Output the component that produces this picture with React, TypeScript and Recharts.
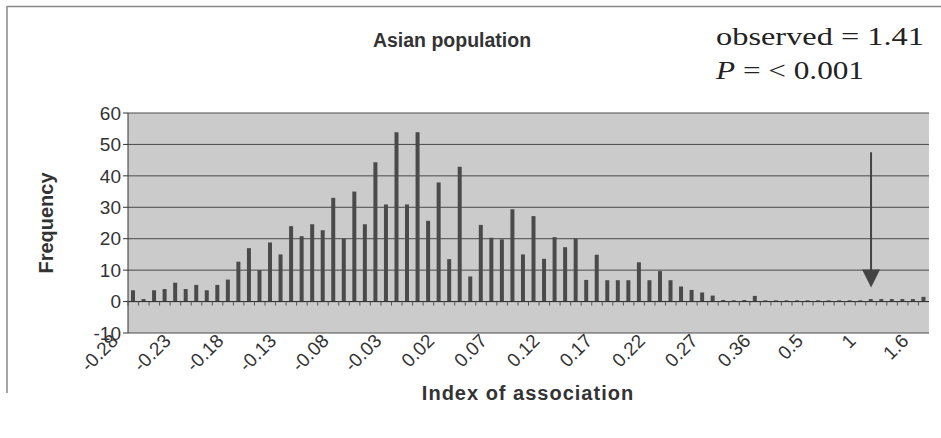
import { BarChart, Bar, XAxis, YAxis, CartesianGrid, ReferenceLine, ReferenceArea } from 'recharts'

// bins of the index of association
const indexBins = [
  '-0.28', '-0.27', '-0.26', '-0.25', '-0.24', '-0.23', '-0.22', '-0.21', '-0.2', '-0.19',
  '-0.18', '-0.17', '-0.16', '-0.15', '-0.14', '-0.13', '-0.12', '-0.11', '-0.1', '-0.09',
  '-0.08', '-0.07', '-0.06', '-0.05', '-0.04', '-0.03', '-0.02', '-0.01', '0', '0.01',
  '0.02', '0.03', '0.04', '0.05', '0.06', '0.07', '0.08', '0.09', '0.1', '0.11',
  '0.12', '0.13', '0.14', '0.15', '0.16', '0.17', '0.18', '0.19', '0.2', '0.21',
  '0.22', '0.23', '0.24', '0.25', '0.26', '0.27', '0.28', '0.29', '0.3', '0.33',
  '0.36', '0.39', '0.42', '0.44', '0.47', '0.5', '0.6', '0.7', '0.8', '0.9',
  '1', '1.1', '1.2', '1.3', '1.4', '1.6',
]

const frequencies = [
  3.6, 0.8, 3.6, 4, 6, 4, 5.3, 3.6, 5.3, 7,
  12.7, 17, 10, 18.8, 15, 24, 20.8, 24.6, 22.7, 33,
  20, 35, 24.6, 44.3, 30.9, 53.9, 30.9, 53.9, 25.7, 37.9,
  13.5, 42.9, 8, 24.4, 20.3, 19.8, 29.4, 15, 27.2, 13.6,
  20.5, 17.3, 20, 6.9, 14.9, 6.8, 6.8, 6.8, 12.5, 6.8,
  9.7, 6.8, 4.8, 3.7, 2.9, 1.9, 0.5, 0.4, 0.5, 1.8,
  0.4, 0.4, 0.4, 0.4, 0.4, 0.4, 0.4, 0.4, 0.4, 0.4,
  0.8, 0.8, 0.8, 0.8, 0.8, 1.5,
]

const yTicks = [-10, 0, 10, 20, 30, 40, 50, 60]

// where the observed-value arrow sits
const arrowBin = '1'
const arrowFrom = 47.5
const arrowTo = 4.5

const data = indexBins.map((bin, i) => ({ bin, frequency: frequencies[i] }))

const W = 941
const H = 438
const PLOT_TOP = 113
const PLOT_BOTTOM = 333
const PLOT_LEFT = 128
const PLOT_RIGHT = 929
const BAND = (PLOT_RIGHT - PLOT_LEFT) / indexBins.length
const ZERO_Y = PLOT_TOP + ((PLOT_BOTTOM - PLOT_TOP) * 60) / 70

const SANS = 'Arial, "Liberation Sans", sans-serif'
const SERIF = '"Times New Roman", "Liberation Serif", serif'
const INK = '#333'

function BinTick({ x, payload, index }: any) {
  const ex = x - 14
  const ey = PLOT_BOTTOM + 9
  return (
    <g>
      <line x1={x - BAND / 2} x2={x - BAND / 2} y1={ZERO_Y} y2={ZERO_Y + 4} stroke="#555" />
      {index % 5 === 0 && (
        <text
          x={ex}
          y={ey}
          textAnchor="end"
          fontSize={19}
          fontFamily={SANS}
          fill={INK}
          transform={`rotate(-45 ${ex} ${ey})`}
        >
          {payload.value}
        </text>
      )}
    </g>
  )
}

function Arrow({ x1, y1, x2, y2 }: any) {
  return (
    <g>
      <line x1={x1} y1={y1} x2={x2} y2={y2 - 16} stroke="#444" strokeWidth={2} />
      <polygon points={`${x2 - 9},${y2 - 18} ${x2 + 9},${y2 - 18} ${x2},${y2}`} fill="#444" />
    </g>
  )
}

export default function App() {
  return (
    <div style={{ position: 'absolute', left: 0, top: 0, width: W, height: H, background: '#fff' }}>
      <BarChart
        width={W}
        height={H}
        data={data}
        margin={{ top: PLOT_TOP, right: W - PLOT_RIGHT, bottom: H - PLOT_BOTTOM - 60, left: PLOT_LEFT - 60 }}
      >
        <CartesianGrid vertical={false} fill="#cbcbcb" stroke="#4a4a4a" />
        <XAxis
          dataKey="bin"
          interval={0}
          height={60}
          axisLine={false}
          tickLine={false}
          tickSize={0}
          tick={<BinTick />}
        />
        <YAxis
          width={60}
          domain={[-10, 60]}
          ticks={yTicks}
          interval={0}
          stroke="#333"
          tickSize={5}
          tick={{ fontSize: 19, fontFamily: SANS, fill: INK }}
        />
        <ReferenceArea fill="none" stroke="#444" ifOverflow="visible" />
        <ReferenceLine y={0} stroke="#333" />
        <Bar dataKey="frequency" fill="#4a4a4a" barSize={4} isAnimationActive={false} />
        <ReferenceLine
          segment={[
            { x: arrowBin, y: arrowFrom },
            { x: arrowBin, y: arrowTo },
          ]}
          ifOverflow="visible"
          shape={<Arrow />}
        />
      </BarChart>
      <svg width={W} height={H} style={{ position: 'absolute', left: 0, top: 0, pointerEvents: 'none' }}>
        <line x1={7} y1={6.5} x2={W} y2={6.5} stroke="#888" strokeWidth={1.5} />
        <line x1={7} y1={6} x2={7} y2={393} stroke="#888" strokeWidth={1.5} />
        <text x={452} y={47} textAnchor="middle" fontSize={19.5} fontWeight="bold" fontFamily={SANS} fill={INK}>
          Asian population
        </text>
        <text x={716} y={45} fontSize={26} fontFamily={SERIF} fill="#222" textLength={208} lengthAdjust="spacingAndGlyphs">
          observed = 1.41
        </text>
        <text x={716} y={79} fontSize={26} fontFamily={SERIF} fill="#222" textLength={148} lengthAdjust="spacingAndGlyphs">
          <tspan fontStyle="italic">P</tspan> = &lt; 0.001
        </text>
        <text
          x={53}
          y={223}
          textAnchor="middle"
          fontSize={20}
          fontWeight="bold"
          fontFamily={SANS}
          fill={INK}
          transform="rotate(-90 53 223)"
        >
          Frequency
        </text>
        <text x={528} y={400} textAnchor="middle" fontSize={20} fontWeight="bold" letterSpacing={1} fontFamily={SANS} fill={INK}>
          Index of association
        </text>
      </svg>
    </div>
  )
}
